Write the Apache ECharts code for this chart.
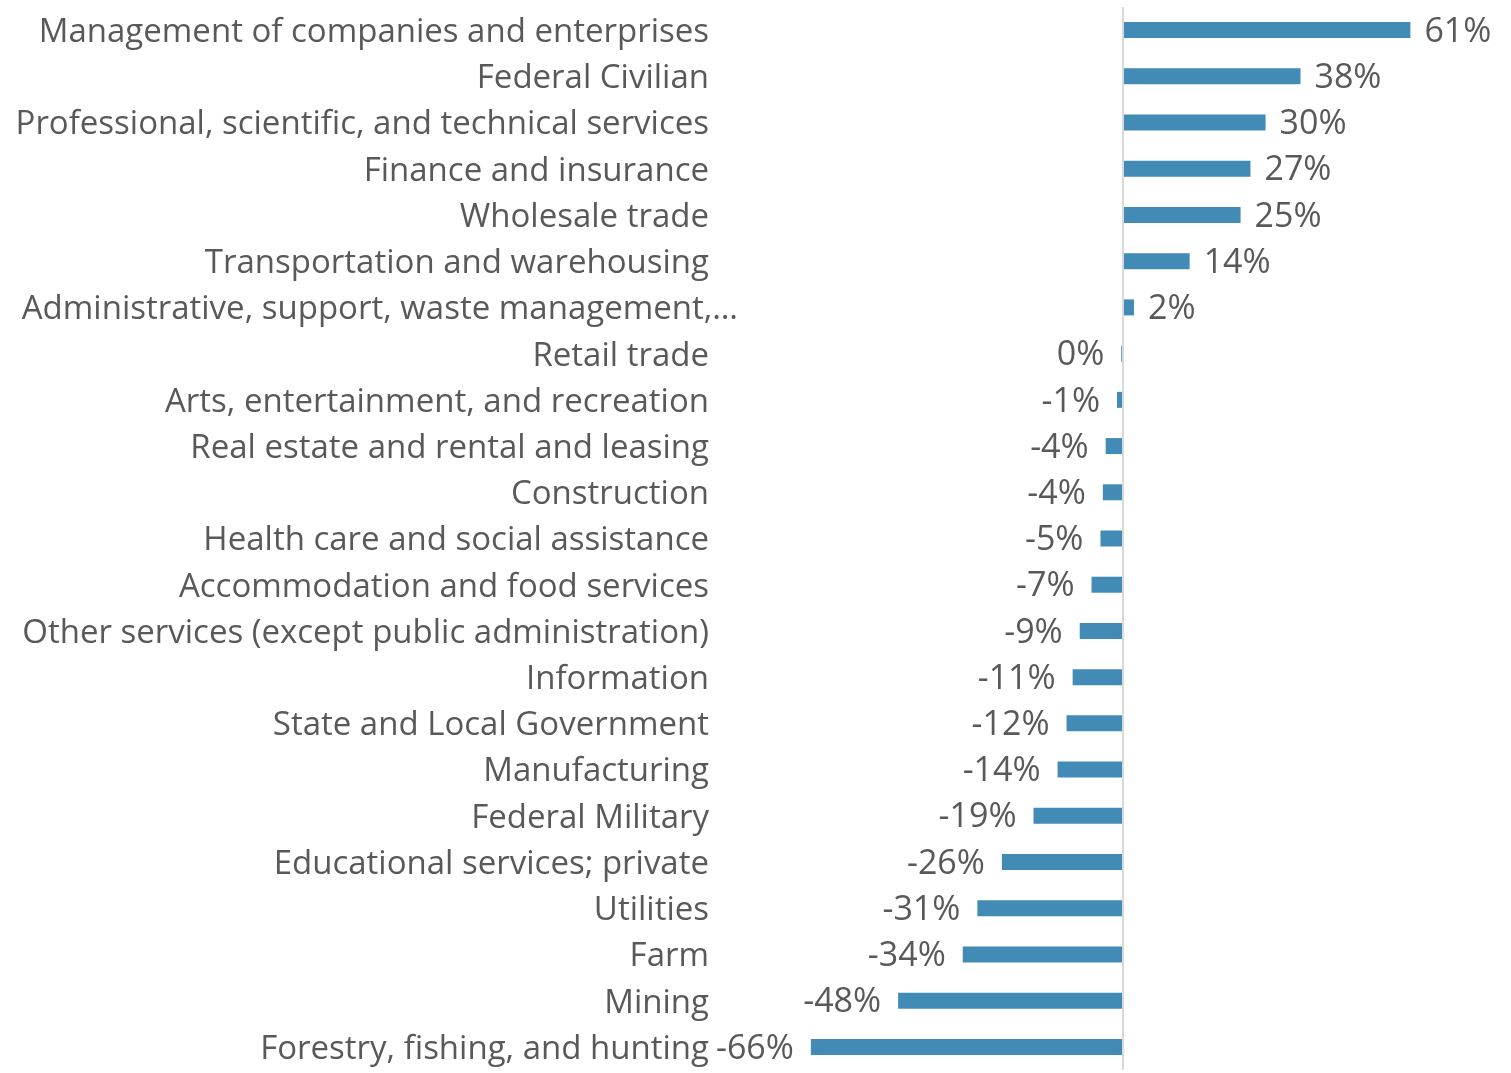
<!DOCTYPE html>
<html>
<head>
<meta charset="utf-8">
<script src="https://cdn.jsdelivr.net/npm/echarts@6/dist/echarts.min.js"></script>
<style>
  html, body { margin: 0; padding: 0; background: #fff; }
  #chart { width: 1511px; height: 1073px; }
</style>
</head>
<body>
<div id="chart"></div>
<script>
// industries, top to bottom
const categories = [
  'Management of companies and enterprises',
  'Federal Civilian',
  'Professional, scientific, and technical services',
  'Finance and insurance',
  'Wholesale trade',
  'Transportation and warehousing',
  'Administrative, support, waste management,…',
  'Retail trade',
  'Arts, entertainment, and recreation',
  'Real estate and rental and leasing',
  'Construction',
  'Health care and social assistance',
  'Accommodation and food services',
  'Other services (except public administration)',
  'Information',
  'State and Local Government',
  'Manufacturing',
  'Federal Military',
  'Educational services; private',
  'Utilities',
  'Farm',
  'Mining',
  'Forestry, fishing, and hunting'
]

// percent change
const values = [
  61.0, 37.7, 30.3, 27.1, 25.0, 14.2, 2.4, -0.3, -1.2, -3.6, -4.2, -4.7,
  -6.6, -9.1, -10.6, -11.9, -13.8, -18.9, -25.6, -30.8, -33.9, -47.6, -66.1
]

const TEXT = '#595959'
const BAR = '#428bb6'
const FONT = 'Open Sans'

const chart = echarts.init(document.getElementById('chart'))

chart.setOption({
  animation: false,
  grid: { left: 717, right: 11, top: 7, bottom: 3, containLabel: false },
  xAxis: {
    type: 'value',
    min: -86,
    max: 80,
    show: false,
    splitLine: { show: false }
  },
  yAxis: {
    type: 'category',
    inverse: true,
    data: categories,
    axisLine: { show: false, onZero: false },
    axisTick: { show: false },
    axisLabel: {
      margin: 8,
      color: TEXT,
      fontFamily: FONT,
      fontSize: 33,
      padding: [5, 0, 0, 0],
      formatter: v => v.endsWith('…') ? `{ov|${v}}` : v,
      rich: {
        // excel lets the truncated label run past the others
        ov: { color: TEXT, fontFamily: FONT, fontSize: 33, padding: [0, -29, 0, 0] }
      }
    }
  },
  series: [
    {
      type: 'bar',
      barWidth: 16,
      itemStyle: { color: BAR },
      data: values.map(v => ({
        value: v,
        label: { position: v < 0 ? 'left' : 'right', distance: v < 0 ? 17 : 14 }
      })),
      label: {
        show: true,
        color: TEXT,
        fontFamily: FONT,
        fontSize: 34,
        offset: [0, 2],
        formatter: p => `${Math.round(p.value)}%`
      },
      markLine: {
        silent: true,
        symbol: 'none',
        label: { show: false },
        lineStyle: { color: '#d9d9d9', width: 2, type: 'solid' },
        data: [{ xAxis: 0 }]
      }
    }
  ]
})
</script>
</body>
</html>
